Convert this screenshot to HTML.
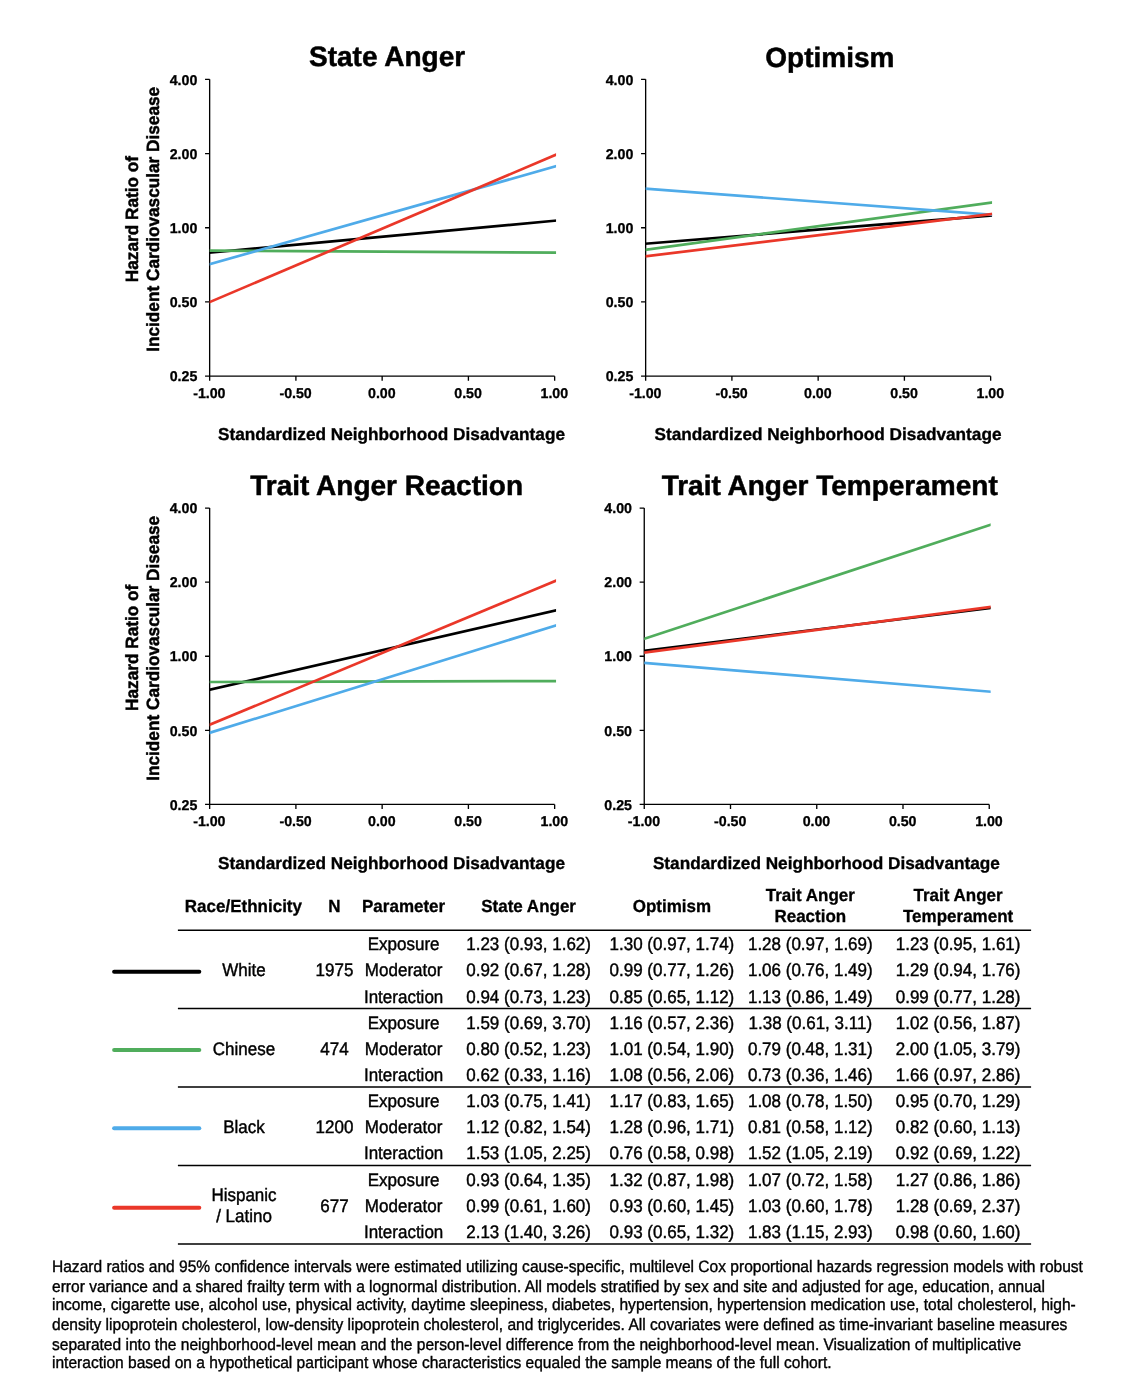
<!DOCTYPE html>
<html lang="en"><head><meta charset="utf-8">
<title>Hazard ratio of incident cardiovascular disease by neighborhood disadvantage</title>
<style>
html,body{margin:0;padding:0;background:#fff;}
body{width:1148px;height:1386px;overflow:hidden;font-family:"Liberation Sans", Arial, Helvetica, sans-serif;}
svg{display:block;}
svg text{font-family:"Liberation Sans", Arial, Helvetica, sans-serif;fill:#000;text-rendering:geometricPrecision;}
.ttl{font-size:28.0px;font-weight:700;stroke:#000;stroke-width:0.5px;}
.tk{font-size:14.2px;font-weight:700;stroke:#000;stroke-width:0.3px;}
.axt{font-size:17.22px;font-weight:700;stroke:#000;stroke-width:0.35px;}
.ylt{font-size:17.2px;font-weight:700;stroke:#000;stroke-width:0.45px;}
.ax{fill:none;stroke:#000;stroke-width:1.33;}
.sr{stroke-width:2.7;fill:none;}
.th text{font-size:17.0px;font-weight:700;stroke:#000;stroke-width:0.3px;}
.td text{font-size:17.0px;stroke:#000;stroke-width:0.4px;}
.rule{fill:none;stroke:#000;stroke-width:1.5;}
.lg{stroke-width:4;stroke-linecap:round;}
.ft text{font-size:15.55px;stroke:#000;stroke-width:0.35px;}
</style></head><body>
<svg width="1148" height="1386" viewBox="0 0 1148 1386" role="img" aria-label="Figure: hazard ratios by standardized neighborhood disadvantage">
<rect width="1148" height="1386" fill="#fff"/>
<g class="chart" id="chart1">
<text class="ttl" x="387.1" y="66" text-anchor="middle">State Anger</text>
<path class="ax" d="M209.65 79.35V380.75M205.05 376.15H554.65M205.05 79.35H209.65M205.05 153.55H209.65M205.05 227.75H209.65M205.05 301.95H209.65M295.9 376.15V380.75M382.15 376.15V380.75M468.4 376.15V380.75M554.65 376.15V380.75"/>
<text class="tk" x="197.35" y="84.55" text-anchor="end">4.00</text>
<text class="tk" x="197.35" y="158.75" text-anchor="end">2.00</text>
<text class="tk" x="197.35" y="232.95" text-anchor="end">1.00</text>
<text class="tk" x="197.35" y="307.15" text-anchor="end">0.50</text>
<text class="tk" x="197.35" y="381.35" text-anchor="end">0.25</text>
<text class="tk" x="209.35" y="398.15" text-anchor="middle">-1.00</text>
<text class="tk" x="295.6" y="398.15" text-anchor="middle">-0.50</text>
<text class="tk" x="381.85" y="398.15" text-anchor="middle">0.00</text>
<text class="tk" x="468.1" y="398.15" text-anchor="middle">0.50</text>
<text class="tk" x="554.35" y="398.15" text-anchor="middle">1.00</text>
<text class="axt" x="218" y="439.8">Standardized Neighborhood Disadvantage</text>
<text class="ylt" transform="translate(138.3 219.1) rotate(-90) scale(1 1.03)" text-anchor="middle">Hazard Ratio of</text>
<text class="ylt" transform="translate(158.9 219.35) rotate(-90) scale(1 1.03)" text-anchor="middle">Incident Cardiovascular Disease</text>
<clipPath id="clip1"><rect x="209.65" y="69.35" width="346.4" height="306.8"/></clipPath>
<g clip-path="url(#clip1)">
<line class="sr" x1="206.65" y1="252.98" x2="558.65" y2="220.33" stroke="#000000"/>
<line class="sr" x1="206.65" y1="250.68" x2="558.65" y2="252.62" stroke="#50AD5C"/>
<line class="sr" x1="206.65" y1="265.05" x2="558.65" y2="165.47" stroke="#4FABE9"/>
<line class="sr" x1="206.65" y1="303.38" x2="558.65" y2="153.6" stroke="#EA3729"/>
</g>
</g>
<g class="chart" id="chart2">
<text class="ttl" x="829.85" y="66.6" text-anchor="middle">Optimism</text>
<path class="ax" d="M645.65 79.35V380.75M641.05 376.15H990.65M641.05 79.35H645.65M641.05 153.55H645.65M641.05 227.75H645.65M641.05 301.95H645.65M731.9 376.15V380.75M818.15 376.15V380.75M904.4 376.15V380.75M990.65 376.15V380.75"/>
<text class="tk" x="633.35" y="84.55" text-anchor="end">4.00</text>
<text class="tk" x="633.35" y="158.75" text-anchor="end">2.00</text>
<text class="tk" x="633.35" y="232.95" text-anchor="end">1.00</text>
<text class="tk" x="633.35" y="307.15" text-anchor="end">0.50</text>
<text class="tk" x="633.35" y="381.35" text-anchor="end">0.25</text>
<text class="tk" x="645.35" y="398.15" text-anchor="middle">-1.00</text>
<text class="tk" x="731.6" y="398.15" text-anchor="middle">-0.50</text>
<text class="tk" x="817.85" y="398.15" text-anchor="middle">0.00</text>
<text class="tk" x="904.1" y="398.15" text-anchor="middle">0.50</text>
<text class="tk" x="990.35" y="398.15" text-anchor="middle">1.00</text>
<text class="axt" x="654.5" y="439.8">Standardized Neighborhood Disadvantage</text>
<clipPath id="clip2"><rect x="645.65" y="69.35" width="346.4" height="306.8"/></clipPath>
<g clip-path="url(#clip2)">
<line class="sr" x1="642.65" y1="243.95" x2="994.65" y2="215.17" stroke="#000000"/>
<line class="sr" x1="642.65" y1="250.11" x2="994.65" y2="202.16" stroke="#50AD5C"/>
<line class="sr" x1="642.65" y1="188.47" x2="994.65" y2="215.1" stroke="#4FABE9"/>
<line class="sr" x1="642.65" y1="256.67" x2="994.65" y2="213.71" stroke="#EA3729"/>
</g>
</g>
<g class="chart" id="chart3">
<text class="ttl" x="386.6" y="494.6" text-anchor="middle">Trait Anger Reaction</text>
<path class="ax" d="M209.65 508.1V809M205.05 804.4H554.65M205.05 508.1H209.65M205.05 582.17H209.65M205.05 656.25H209.65M205.05 730.33H209.65M295.9 804.4V809M382.15 804.4V809M468.4 804.4V809M554.65 804.4V809"/>
<text class="tk" x="197.35" y="513.3" text-anchor="end">4.00</text>
<text class="tk" x="197.35" y="587.38" text-anchor="end">2.00</text>
<text class="tk" x="197.35" y="661.45" text-anchor="end">1.00</text>
<text class="tk" x="197.35" y="735.53" text-anchor="end">0.50</text>
<text class="tk" x="197.35" y="809.6" text-anchor="end">0.25</text>
<text class="tk" x="209.35" y="826.4" text-anchor="middle">-1.00</text>
<text class="tk" x="295.6" y="826.4" text-anchor="middle">-0.50</text>
<text class="tk" x="381.85" y="826.4" text-anchor="middle">0.00</text>
<text class="tk" x="468.1" y="826.4" text-anchor="middle">0.50</text>
<text class="tk" x="554.35" y="826.4" text-anchor="middle">1.00</text>
<text class="axt" x="218" y="868.8">Standardized Neighborhood Disadvantage</text>
<text class="ylt" transform="translate(138.3 647.8) rotate(-90) scale(1 1.03)" text-anchor="middle">Hazard Ratio of</text>
<text class="ylt" transform="translate(158.9 648.35) rotate(-90) scale(1 1.03)" text-anchor="middle">Incident Cardiovascular Disease</text>
<clipPath id="clip3"><rect x="209.65" y="498.1" width="346.4" height="306.3"/></clipPath>
<g clip-path="url(#clip3)">
<line class="sr" x1="206.65" y1="690.39" x2="558.65" y2="609.68" stroke="#000000"/>
<line class="sr" x1="206.65" y1="682.01" x2="558.65" y2="681.09" stroke="#50AD5C"/>
<line class="sr" x1="206.65" y1="733.73" x2="558.65" y2="624.56" stroke="#4FABE9"/>
<line class="sr" x1="206.65" y1="726.05" x2="558.65" y2="579.54" stroke="#EA3729"/>
</g>
</g>
<g class="chart" id="chart4">
<text class="ttl" x="829.7" y="494.8" text-anchor="middle">Trait Anger Temperament</text>
<path class="ax" d="M644.25 508.1V809M639.65 804.4H989.25M639.65 508.1H644.25M639.65 582.17H644.25M639.65 656.25H644.25M639.65 730.33H644.25M730.5 804.4V809M816.75 804.4V809M903 804.4V809M989.25 804.4V809"/>
<text class="tk" x="631.95" y="513.3" text-anchor="end">4.00</text>
<text class="tk" x="631.95" y="587.38" text-anchor="end">2.00</text>
<text class="tk" x="631.95" y="661.45" text-anchor="end">1.00</text>
<text class="tk" x="631.95" y="735.53" text-anchor="end">0.50</text>
<text class="tk" x="631.95" y="809.6" text-anchor="end">0.25</text>
<text class="tk" x="643.95" y="826.4" text-anchor="middle">-1.00</text>
<text class="tk" x="730.2" y="826.4" text-anchor="middle">-0.50</text>
<text class="tk" x="816.45" y="826.4" text-anchor="middle">0.00</text>
<text class="tk" x="902.7" y="826.4" text-anchor="middle">0.50</text>
<text class="tk" x="988.95" y="826.4" text-anchor="middle">1.00</text>
<text class="axt" x="652.9" y="868.8">Standardized Neighborhood Disadvantage</text>
<clipPath id="clip4"><rect x="644.25" y="498.1" width="346.4" height="306.3"/></clipPath>
<g clip-path="url(#clip4)">
<line class="sr" x1="641.25" y1="651.17" x2="993.25" y2="607.71" stroke="#000000"/>
<line class="sr" x1="641.25" y1="639.79" x2="993.25" y2="523.88" stroke="#50AD5C"/>
<line class="sr" x1="641.25" y1="662.55" x2="993.25" y2="691.93" stroke="#4FABE9"/>
<line class="sr" x1="641.25" y1="653.1" x2="993.25" y2="606.57" stroke="#EA3729"/>
</g>
</g>
<g id="table">
<g class="th" text-anchor="middle">
<text transform="matrix(1 0 0 1.03 243.4 911.9)">Race/Ethnicity</text>
<text transform="matrix(1 0 0 1.03 334.5 911.9)">N</text>
<text transform="matrix(1 0 0 1.03 403.6 911.9)">Parameter</text>
<text transform="matrix(1 0 0 1.03 528.6 911.9)">State Anger</text>
<text transform="matrix(1 0 0 1.03 671.9 911.9)">Optimism</text>
<text transform="matrix(1 0 0 1.03 810.3 901.1)">Trait Anger</text>
<text transform="matrix(1 0 0 1.03 810.3 922)">Reaction</text>
<text transform="matrix(1 0 0 1.03 958.1 901.1)">Trait Anger</text>
<text transform="matrix(1 0 0 1.03 958.1 922)">Temperament</text>
</g>
<path class="rule" d="M177.9 930.2H1031.1M177.9 1008.6H1031.1M177.9 1087.1H1031.1M177.9 1165.5H1031.1M177.9 1244.1H1031.1"/>
<g class="td" text-anchor="middle">
<line class="lg" x1="114.1" y1="971.75" x2="199.3" y2="971.75" stroke="#000000"/>
<text transform="matrix(1 0 0 1.065 244 975.76)">White</text>
<text transform="matrix(1 0 0 1.065 334.5 975.76)">1975</text>
<text transform="matrix(1 0 0 1.065 403.6 949.5)">Exposure</text>
<text transform="matrix(1 0 0 1.065 528.6 949.5)">1.23 (0.93, 1.62)</text>
<text transform="matrix(1 0 0 1.065 671.9 949.5)">1.30 (0.97, 1.74)</text>
<text transform="matrix(1 0 0 1.065 810.3 949.5)">1.28 (0.97, 1.69)</text>
<text transform="matrix(1 0 0 1.065 958.1 949.5)">1.23 (0.95, 1.61)</text>
<text transform="matrix(1 0 0 1.065 403.6 975.76)">Moderator</text>
<text transform="matrix(1 0 0 1.065 528.6 975.76)">0.92 (0.67, 1.28)</text>
<text transform="matrix(1 0 0 1.065 671.9 975.76)">0.99 (0.77, 1.26)</text>
<text transform="matrix(1 0 0 1.065 810.3 975.76)">1.06 (0.76, 1.49)</text>
<text transform="matrix(1 0 0 1.065 958.1 975.76)">1.29 (0.94, 1.76)</text>
<text transform="matrix(1 0 0 1.065 403.6 1002.92)">Interaction</text>
<text transform="matrix(1 0 0 1.065 528.6 1002.92)">0.94 (0.73, 1.23)</text>
<text transform="matrix(1 0 0 1.065 671.9 1002.92)">0.85 (0.65, 1.12)</text>
<text transform="matrix(1 0 0 1.065 810.3 1002.92)">1.13 (0.86, 1.49)</text>
<text transform="matrix(1 0 0 1.065 958.1 1002.92)">0.99 (0.77, 1.28)</text>
<line class="lg" x1="114.1" y1="1049.9" x2="199.3" y2="1049.9" stroke="#50AD5C"/>
<text transform="matrix(1 0 0 1.065 244 1054.54)">Chinese</text>
<text transform="matrix(1 0 0 1.065 334.5 1054.54)">474</text>
<text transform="matrix(1 0 0 1.065 403.6 1029.15)">Exposure</text>
<text transform="matrix(1 0 0 1.065 528.6 1029.15)">1.59 (0.69, 3.70)</text>
<text transform="matrix(1 0 0 1.065 671.9 1029.15)">1.16 (0.57, 2.36)</text>
<text transform="matrix(1 0 0 1.065 810.3 1029.15)">1.38 (0.61, 3.11)</text>
<text transform="matrix(1 0 0 1.065 958.1 1029.15)">1.02 (0.56, 1.87)</text>
<text transform="matrix(1 0 0 1.065 403.6 1054.54)">Moderator</text>
<text transform="matrix(1 0 0 1.065 528.6 1054.54)">0.80 (0.52, 1.23)</text>
<text transform="matrix(1 0 0 1.065 671.9 1054.54)">1.01 (0.54, 1.90)</text>
<text transform="matrix(1 0 0 1.065 810.3 1054.54)">0.79 (0.48, 1.31)</text>
<text transform="matrix(1 0 0 1.065 958.1 1054.54)">2.00 (1.05, 3.79)</text>
<text transform="matrix(1 0 0 1.065 403.6 1080.8)">Interaction</text>
<text transform="matrix(1 0 0 1.065 528.6 1080.8)">0.62 (0.33, 1.16)</text>
<text transform="matrix(1 0 0 1.065 671.9 1080.8)">1.08 (0.56, 2.06)</text>
<text transform="matrix(1 0 0 1.065 810.3 1080.8)">0.73 (0.36, 1.46)</text>
<text transform="matrix(1 0 0 1.065 958.1 1080.8)">1.66 (0.97, 2.86)</text>
<line class="lg" x1="114.1" y1="1128.2" x2="199.3" y2="1128.2" stroke="#4FABE9"/>
<text transform="matrix(1 0 0 1.065 244 1133.32)">Black</text>
<text transform="matrix(1 0 0 1.065 334.5 1133.32)">1200</text>
<text transform="matrix(1 0 0 1.065 403.6 1107.06)">Exposure</text>
<text transform="matrix(1 0 0 1.065 528.6 1107.06)">1.03 (0.75, 1.41)</text>
<text transform="matrix(1 0 0 1.065 671.9 1107.06)">1.17 (0.83, 1.65)</text>
<text transform="matrix(1 0 0 1.065 810.3 1107.06)">1.08 (0.78, 1.50)</text>
<text transform="matrix(1 0 0 1.065 958.1 1107.06)">0.95 (0.70, 1.29)</text>
<text transform="matrix(1 0 0 1.065 403.6 1133.32)">Moderator</text>
<text transform="matrix(1 0 0 1.065 528.6 1133.32)">1.12 (0.82, 1.54)</text>
<text transform="matrix(1 0 0 1.065 671.9 1133.32)">1.28 (0.96, 1.71)</text>
<text transform="matrix(1 0 0 1.065 810.3 1133.32)">0.81 (0.58, 1.12)</text>
<text transform="matrix(1 0 0 1.065 958.1 1133.32)">0.82 (0.60, 1.13)</text>
<text transform="matrix(1 0 0 1.065 403.6 1158.63)">Interaction</text>
<text transform="matrix(1 0 0 1.065 528.6 1158.63)">1.53 (1.05, 2.25)</text>
<text transform="matrix(1 0 0 1.065 671.9 1158.63)">0.76 (0.58, 0.98)</text>
<text transform="matrix(1 0 0 1.065 810.3 1158.63)">1.52 (1.05, 2.19)</text>
<text transform="matrix(1 0 0 1.065 958.1 1158.63)">0.92 (0.69, 1.22)</text>
<line class="lg" x1="114.1" y1="1207.65" x2="199.3" y2="1207.65" stroke="#EA3729"/>
<text transform="matrix(1 0 0 1.065 244 1200.7)">Hispanic</text>
<text transform="matrix(1 0 0 1.065 244 1221.6)">/ Latino</text>
<text transform="matrix(1 0 0 1.065 334.5 1212.1)">677</text>
<text transform="matrix(1 0 0 1.065 403.6 1185.74)">Exposure</text>
<text transform="matrix(1 0 0 1.065 528.6 1185.74)">0.93 (0.64, 1.35)</text>
<text transform="matrix(1 0 0 1.065 671.9 1185.74)">1.32 (0.87, 1.98)</text>
<text transform="matrix(1 0 0 1.065 810.3 1185.74)">1.07 (0.72, 1.58)</text>
<text transform="matrix(1 0 0 1.065 958.1 1185.74)">1.27 (0.86, 1.86)</text>
<text transform="matrix(1 0 0 1.065 403.6 1212.1)">Moderator</text>
<text transform="matrix(1 0 0 1.065 528.6 1212.1)">0.99 (0.61, 1.60)</text>
<text transform="matrix(1 0 0 1.065 671.9 1212.1)">0.93 (0.60, 1.45)</text>
<text transform="matrix(1 0 0 1.065 810.3 1212.1)">1.03 (0.60, 1.78)</text>
<text transform="matrix(1 0 0 1.065 958.1 1212.1)">1.28 (0.69, 2.37)</text>
<text transform="matrix(1 0 0 1.065 403.6 1238.36)">Interaction</text>
<text transform="matrix(1 0 0 1.065 528.6 1238.36)">2.13 (1.40, 3.26)</text>
<text transform="matrix(1 0 0 1.065 671.9 1238.36)">0.93 (0.65, 1.32)</text>
<text transform="matrix(1 0 0 1.065 810.3 1238.36)">1.83 (1.15, 2.93)</text>
<text transform="matrix(1 0 0 1.065 958.1 1238.36)">0.98 (0.60, 1.60)</text>
</g>
</g>
<g id="footnote" class="ft">
<text transform="matrix(1 0 0 1.065 52 1271.9)">Hazard ratios and 95% confidence intervals were estimated utilizing cause-specific, multilevel Cox proportional hazards regression models with robust</text>
<text transform="matrix(1 0 0 1.065 52 1291.8)">error variance and a shared frailty term with a lognormal distribution. All models stratified by sex and site and adjusted for age, education, annual</text>
<text transform="matrix(1 0 0 1.065 52 1309.9)">income, cigarette use, alcohol use, physical activity, daytime sleepiness, diabetes, hypertension, hypertension medication use, total cholesterol, high-</text>
<text transform="matrix(1 0 0 1.065 52 1329.7)">density lipoprotein cholesterol, low-density lipoprotein cholesterol, and triglycerides. All covariates were defined as time-invariant baseline measures</text>
<text transform="matrix(1 0 0 1.065 52 1349.7)">separated into the neighborhood-level mean and the person-level difference from the neighborhood-level mean. Visualization of multiplicative</text>
<text transform="matrix(1 0 0 1.065 52 1367.8)">interaction based on a hypothetical participant whose characteristics equaled the sample means of the full cohort.</text>
</g>
</svg>
</body></html>
